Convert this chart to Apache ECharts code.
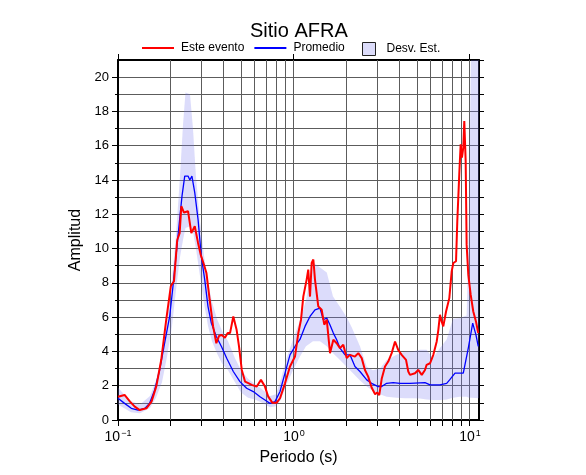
<!DOCTYPE html>
<html>
<head>
<meta charset="utf-8">
<script src="https://cdn.jsdelivr.net/npm/echarts@6/dist/echarts.min.js"></script>
<style>html,body{margin:0;padding:0;background:#fff}#c{width:586px;height:475px}</style>
</head>
<body>
<div id="c"></div>
<script>
// ---- data (period in s, amplitude) ----
const eventPeriod = [0.1,0.109,0.117,0.1245,0.133,0.145,0.155,0.165,0.176,0.188,0.1995,0.208,0.217,0.224,0.229,0.237,0.25,0.261,0.273,0.285,0.295,0.308,0.318,0.332,0.347,0.362,0.375,0.387,0.405,0.42,0.433,0.452,0.472,0.487,0.505,0.527,0.55,0.575,0.614,0.649,0.684,0.714,0.753,0.798,0.833,0.889,0.949,1.013,1.058,1.096,1.13,1.18,1.205,1.233,1.26,1.288,1.316,1.374,1.436,1.486,1.535,1.602,1.673,1.748,1.825,1.906,1.992,2.08,2.22,2.32,2.425,2.53,2.64,2.76,2.89,2.97,3.05,3.15,3.29,3.43,3.59,3.75,3.91,4.09,4.33,4.46,4.56,4.87,5.08,5.32,5.55,5.67,5.93,6.19,6.47,6.61,6.75,6.9,7.05,7.31,7.63,7.87,8.04,8.33,8.47,8.69,8.85,9.0,9.16,9.28,9.45,9.57,9.78,10.09,10.44,10.81,11.14];
const eventAmp = [1.36,1.46,1.07,0.78,0.58,0.68,1.07,1.95,3.5,5.85,7.8,8.09,10.5,10.9,12.47,12.1,12.18,10.9,11.3,10.33,9.65,9.06,8.58,7.0,5.46,4.48,4.9,4.97,4.8,5.07,5.07,6.04,5.26,4.29,2.92,2.24,2.15,2.05,1.95,2.34,1.95,1.36,1.01,1.01,1.27,2.14,3.12,3.7,5.07,5.85,7.21,8.19,8.77,7.2,9.16,9.36,8.19,6.63,6.43,5.56,5.85,3.9,4.68,4.48,4.19,4.39,3.61,3.8,3.7,3.9,3.61,2.92,2.53,1.9,1.5,1.6,1.45,2.4,3.12,3.41,3.9,4.58,4.09,3.8,3.51,2.83,2.63,2.73,2.92,2.63,2.92,3.22,3.31,3.8,4.58,5.26,6.14,5.75,5.46,6.33,7.11,8.67,9.16,9.26,11.6,14.33,16.08,15.3,15.89,17.44,15.1,10.23,8.48,7.31,6.33,5.75,5.07];

const meanPeriod = [0.1,0.109,0.119,0.13,0.142,0.151,0.1616,0.1725,0.184,0.1966,0.2053,0.2145,0.224,0.231,0.2394,0.25,0.256,0.263,0.273,0.285,0.2974,0.311,0.3245,0.339,0.362,0.387,0.4146,0.452,0.493,0.538,0.587,0.641,0.684,0.73,0.78,0.833,0.889,0.949,1.013,1.081,1.155,1.233,1.316,1.346,1.405,1.467,1.535,1.6,1.673,1.748,1.825,1.95,2.08,2.22,2.37,2.59,2.76,3.01,3.15,3.36,3.66,4.0,4.56,5.55,5.93,6.75,7.37,7.66,8.22,9.16,9.78,10.36,10.81,11.14];
const meanAmp = [1.27,0.97,0.68,0.58,0.68,0.97,1.75,2.92,4.48,6.04,7.8,9.75,11.7,13.06,14.23,14.23,14.0,14.23,13.26,11.7,9.55,8.19,6.63,5.65,4.87,4.29,3.6,2.83,2.24,1.85,1.66,1.36,1.17,0.97,1.07,1.66,2.73,3.8,4.29,4.7,5.46,6.04,6.43,6.53,6.53,5.85,5.95,5.56,5.07,4.68,4.19,3.8,3.8,3.12,2.83,2.34,2.14,1.95,1.95,2.14,2.18,2.14,2.14,2.18,2.05,2.05,2.14,2.34,2.73,2.73,4.19,5.65,4.97,4.29];

const bandPeriod = [0.1,0.108,0.1186,0.1333,0.152,0.1644,0.1778,0.19,0.2028,0.2136,0.225,0.234,0.2418,0.2565,0.2667,0.2773,0.2923,0.308,0.3245,0.342,0.365,0.39,0.4217,0.462,0.5,0.548,0.6,0.658,0.731,0.79,0.844,0.9,0.987,1.081,1.17,1.282,1.405,1.535,1.666,1.825,1.992,2.13,2.37,2.59,2.81,3.08,3.36,3.83,4.27,4.74,5.2,5.67,6.16,6.75,7.37,8.0,8.77,9.57,9.87,10.2,11.25];
const bandUpper = [1.9,1.5,1.1,0.9,1.4,2.3,3.8,5.8,8.2,10.8,14.2,17.2,19.1,19.0,17.0,14.2,11.6,9.6,8.0,6.9,5.9,5.2,4.6,3.6,2.9,2.4,2.1,1.8,1.4,1.5,2.4,3.5,4.7,5.8,7.0,9.2,8.9,8.6,7.2,6.6,6.0,5.4,4.3,3.1,2.9,3.0,3.5,3.8,4.0,4.0,4.1,4.1,3.6,4.2,4.7,5.9,5.95,6.1,12,24,24];
const bandLower = [0.9,0.7,0.45,0.4,0.7,1.3,2.2,3.7,5.5,7.6,9.5,10.5,11.2,11.3,11.0,10.0,8.4,6.8,5.5,4.6,3.9,3.3,2.9,2.2,1.6,1.3,1.2,1.0,0.75,0.8,1.2,2.0,2.9,3.7,4.3,4.6,4.6,4.3,3.9,3.5,3.1,2.8,2.3,1.95,1.7,1.5,1.36,1.3,1.27,1.27,1.25,1.2,1.17,1.17,1.2,1.3,1.36,1.36,1.3,1.3,1.27];

const xGridValues = [0.1,0.2,0.3,0.4,0.5,0.6,0.7,0.8,0.9,1,2,3,4,5,6,7,8,9,10];
const xTickLabels = [0.1, 1, 10];
const yTickLabels = [0,2,4,6,8,10,12,14,16,18,20];
const yMinorTicks = [1,3,5,7,9,11,13,15,17,19];
const yRightTicks = [0,1,2,3,4,5,6,7,8,9,10,11,12,13,14,15,16,17,18,19,20,21];

const FONT = 'Liberation Sans, Arial, Helvetica, sans-serif';
const GRIDC = '#5c5c5c';
const BANDC = 'rgba(120,120,240,0.26)';
const X_MIN = 0.1, X_MAX = 11.25, Y_MIN = 0, Y_MAX = 21;

const chart = echarts.init(document.getElementById('c'), null, {renderer: 'canvas'});

function pairs(xs, ys) { return xs.map((x, i) => [x, ys[i]]); }
function crisp(v) { return Math.round(v - 0.5) + 0.5; }

const supMap = {'-1': '\u22121', '0': '0', '1': '1'};

const option = {
  animation: false,
  backgroundColor: '#fff',
  title: {
    text: 'Sitio AFRA', left: 250, top: 21, padding: 0,
    textStyle: {fontFamily: FONT, fontSize: 20, fontWeight: 'normal', color: '#000'}
  },
  legend: [{
    left: 142, top: 42, padding: 0, itemWidth: 32, itemHeight: 2, itemGap: 10,
    textStyle: {fontFamily: FONT, fontSize: 12, color: '#000', padding: [0, 0, 0, 2]},
    data: [{name: 'Este evento', icon: 'rect'}, {name: 'Promedio', icon: 'rect'}]
  }, {
    left: 362, top: 42, padding: 0, itemWidth: 13, itemHeight: 13,
    textStyle: {fontFamily: FONT, fontSize: 12, color: '#000', padding: [0, 0, 0, 6]},
    data: [{name: 'Desv. Est.', icon: 'rect', itemStyle: {color: '#dcdcfa', borderColor: '#222', borderWidth: 1}}]
  }],
  grid: {left: 118, right: 107, top: 60, bottom: 55, containLabel: false},
  xAxis: [{
    type: 'log', logBase: 10, min: X_MIN, max: X_MAX, position: 'bottom',
    name: 'Periodo (s)', nameLocation: 'middle', nameGap: 27,
    nameTextStyle: {fontFamily: FONT, fontSize: 16, color: '#000'},
    axisLine: {show: true, onZero: false, lineStyle: {color: '#000', width: 2}},
    axisTick: {show: false},
    axisLabel: {
      show: true, margin: 9, customValues: xTickLabels,
      formatter: function (v) {
        const e = String(Math.round(Math.log10(v)));
        return '{b|10}{s|' + supMap[e] + '}';
      },
      rich: {
        b: {fontFamily: FONT, fontSize: 14, color: '#000'},
        s: {fontFamily: FONT, fontSize: 9, color: '#000', padding: [0, 0, 8, 1]}
      }
    },
    splitLine: {show: false},
    minorTick: {show: false}, minorSplitLine: {show: false}
  }, {
    type: 'log', logBase: 10, min: X_MIN, max: X_MAX, position: 'top',
    axisLine: {show: true, onZero: false, lineStyle: {color: '#000', width: 2}},
    axisTick: {show: false},
    axisLabel: {show: false}, splitLine: {show: false}
  }],
  yAxis: [{
    type: 'value', min: Y_MIN, max: Y_MAX, position: 'left',
    name: 'Amplitud', nameLocation: 'middle', nameGap: 25, nameRotate: 90,
    nameTextStyle: {fontFamily: FONT, fontSize: 16, color: '#000'},
    axisLine: {show: true, onZero: false, lineStyle: {color: '#000', width: 2}},
    axisTick: {show: true, inside: false, length: 6, customValues: yTickLabels, lineStyle: {color: '#000', width: 1}},
    axisLabel: {show: true, margin: 9, customValues: yTickLabels, fontFamily: FONT, fontSize: 13, color: '#000'},
    splitLine: {show: true, lineStyle: {color: GRIDC, width: 1}}
  }, {
    type: 'value', min: Y_MIN, max: Y_MAX, position: 'left', offset: 0,
    axisLine: {show: false},
    axisTick: {show: true, inside: false, length: 3, customValues: yMinorTicks, lineStyle: {color: '#000', width: 1}},
    axisLabel: {show: false},
    splitLine: {show: true, lineStyle: {color: GRIDC, width: 1}}
  }, {
    type: 'value', min: Y_MIN, max: Y_MAX, position: 'right', offset: 0,
    axisLine: {show: true, onZero: false, lineStyle: {color: '#000', width: 2}},
    axisTick: {show: true, inside: false, length: 5, customValues: yRightTicks, lineStyle: {color: '#000', width: 1}},
    axisLabel: {show: false}, splitLine: {show: false}
  }],
  series: [{
    name: 'xGrid', type: 'custom', coordinateSystem: 'cartesian2d',
    xAxisIndex: 0, yAxisIndex: 0, clip: false, z: 1, silent: true,
    data: xGridValues.map(v => [v, Y_MIN]),
    encode: {x: 0, y: 1},
    renderItem: function (params, api) {
      const v = api.value(0);
      const top = api.coord([v, Y_MAX]);
      const bot = api.coord([v, Y_MIN]);
      const x = crisp(bot[0]);
      const kids = [
        {type: 'line', shape: {x1: x, y1: bot[1], x2: x, y2: bot[1] + 6}, style: {stroke: '#000', lineWidth: 1}}
      ];
      if (params.dataIndex > 0) {
        kids.unshift({type: 'line', shape: {x1: x, y1: top[1], x2: x, y2: bot[1]}, style: {stroke: GRIDC, lineWidth: 1}});
      }
      if (xTickLabels.indexOf(v) >= 0) {
        kids.push({type: 'line', shape: {x1: x, y1: top[1], x2: x, y2: top[1] - 6}, style: {stroke: '#000', lineWidth: 1}});
      }
      return {type: 'group', children: kids};
    }
  }, {
    name: 'Desv. Est.', type: 'custom', coordinateSystem: 'cartesian2d',
    xAxisIndex: 0, yAxisIndex: 0, clip: true, z: 2, silent: true,
    data: bandPeriod.map((p, i) => [p, bandLower[i], bandUpper[i]]),
    encode: {x: 0, y: [1, 2]},
    itemStyle: {color: '#dcdcfa'},
    renderItem: function (params, api) {
      if (params.dataIndex !== 0) return null;
      const pts = [];
      for (let i = 0; i < bandPeriod.length; i++) pts.push(api.coord([bandPeriod[i], bandUpper[i]]));
      for (let i = bandPeriod.length - 1; i >= 0; i--) pts.push(api.coord([bandPeriod[i], bandLower[i]]));
      return {type: 'polygon', shape: {points: pts}, style: {fill: BANDC}};
    }
  }, {
    name: 'Promedio', type: 'line', xAxisIndex: 0, yAxisIndex: 0,
    data: pairs(meanPeriod, meanAmp), symbol: 'none', z: 3,
    lineStyle: {color: '#0000ff', width: 1.3}, itemStyle: {color: '#0000ff'}
  }, {
    name: 'Este evento', type: 'line', xAxisIndex: 0, yAxisIndex: 0,
    data: pairs(eventPeriod, eventAmp), symbol: 'none', z: 4,
    lineStyle: {color: '#ff0000', width: 2}, itemStyle: {color: '#ff0000'}
  }]
};
chart.setOption(option);
</script>
</body>
</html>
